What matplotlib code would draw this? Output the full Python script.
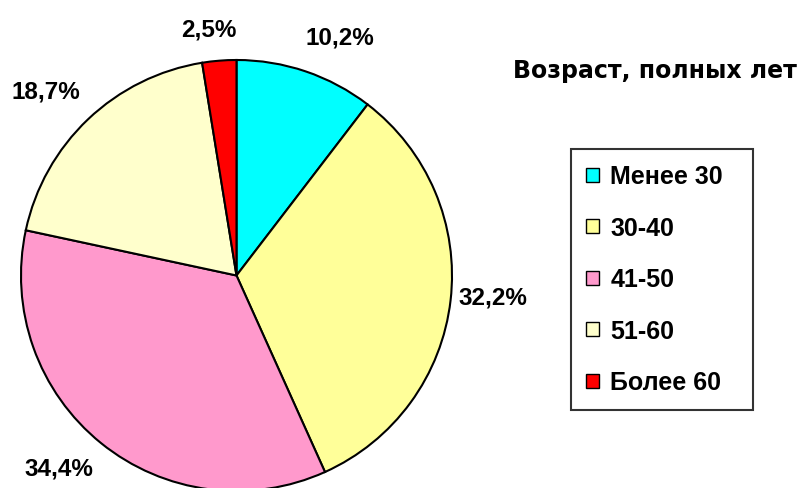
import matplotlib
matplotlib.use('Agg')
import matplotlib.pyplot as plt

title = 'Возраст, полных лет'
groups = ['Менее 30', '30-40', '41-50', '51-60', 'Более 60']
shares = [10.2, 32.2, 34.4, 18.7, 2.5]
colors = ['#00FFFF', '#FFFF99', '#FF99CC', '#FFFFCC', '#FF0000']

W, H = 803, 489
fig = plt.figure(figsize=(W / 100, H / 100), dpi=100)

# pie centre and radius in pixels (from top-left)
cx, cy, r = 236.5, 276.5, 215.5
pad = 1.3
ax = fig.add_axes([(cx - r * pad) / W, (H - cy - r * pad) / H,
                   2 * r * pad / W, 2 * r * pad / H])

wedges, texts, autotexts = ax.pie(
    shares, colors=colors, startangle=90, counterclock=False,
    autopct='%.1f', pctdistance=1.21, radius=1,
    wedgeprops=dict(edgecolor='black', linewidth=1.5),
    textprops=dict(fontsize=17.5, fontweight='bold', family='Liberation Sans'))
ax.set_xlim(-pad, pad)
ax.set_ylim(-pad, pad)
ax.axis('off')

# small nudges (in radii) like Excel's own label placement
nudge = [(0.09, -0.04), (-0.01, 0.04), (-0.065, 0.05), (-0.05, -0.02), (-0.03, -0.06)]
# labels show the raw shares (they sum to 98%, the pie itself is normalised)
for t, v, (dx, dy) in zip(autotexts, shares, nudge):
    t.set_text(('%.1f%%' % v).replace('.', ','))
    x, y = t.get_position()
    t.set_position((x + dx, y + dy))
    t.set_clip_on(False)
for w in wedges:
    w.set_clip_on(False)

fig.text(655 / W, 1 - 71 / H, title, ha='center', va='center',
         fontsize=17, fontweight='bold', family='DejaVu Sans')

leg = fig.legend(wedges, groups, loc='center', mode='expand',
                 bbox_to_anchor=(571 / W, (H - 412) / H, 182 / W, 263 / H),
                 frameon=True, fancybox=False, shadow=False,
                 prop=dict(family='Liberation Sans', weight='bold', size=18),
                 handlelength=0.5, handleheight=0.5, handletextpad=0.45,
                 labelspacing=1.1, borderpad=0.62, borderaxespad=0)
leg.get_frame().set_edgecolor('black')
leg.get_frame().set_linewidth(1.5)
for h in leg.legend_handles:
    h.set_linewidth(1.0)

fig.savefig('out.png', dpi=100)
